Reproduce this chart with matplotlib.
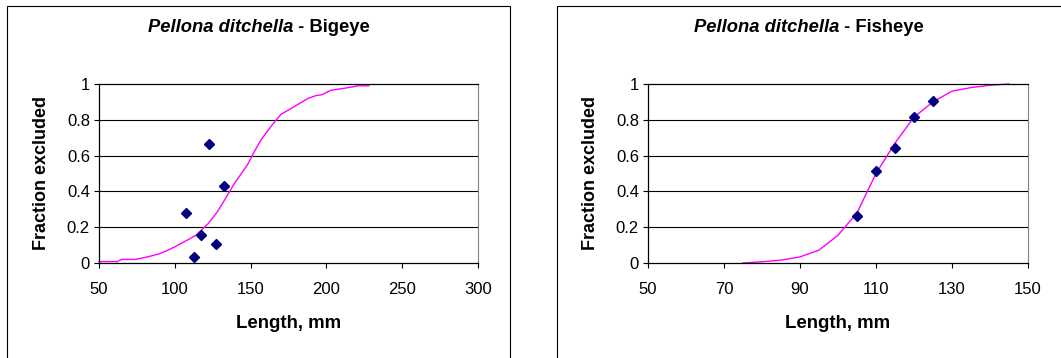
import matplotlib
matplotlib.use("Agg")
import matplotlib.pyplot as plt
from matplotlib.patches import Rectangle

# Bigeye: observed fractions excluded and fitted selection curve
bigeye_length = [107.5, 112.5, 117.5, 122.5, 127.5, 132.5]
bigeye_frac = [0.277, 0.036, 0.155, 0.667, 0.108, 0.43]
bigeye_fit_length = [50, 62, 65, 74, 82, 90, 95, 100, 108, 114, 122, 128, 132,
                     139, 148, 152, 157, 165, 170, 178, 188, 193, 197, 203,
                     211, 218, 221, 228]
bigeye_fit_frac = [0.008, 0.008, 0.02, 0.02, 0.034, 0.052, 0.07, 0.09, 0.127,
                   0.155, 0.22, 0.285, 0.34, 0.44, 0.55, 0.615, 0.69, 0.78,
                   0.83, 0.87, 0.92, 0.935, 0.94, 0.965, 0.975, 0.985, 0.99,
                   0.99]

# Fisheye: observed fractions excluded and fitted selection curve
fisheye_length = [105, 110, 115, 120, 125]
fisheye_frac = [0.262, 0.516, 0.643, 0.817, 0.907]
fisheye_fit_length = [75, 80, 85, 90, 95, 100, 105, 110, 115, 120, 125, 130,
                      135, 140, 145]
fisheye_fit_frac = [0.0, 0.007, 0.016, 0.034, 0.072, 0.155, 0.28, 0.5, 0.67,
                    0.815, 0.9, 0.96, 0.98, 0.993, 1.0]

y_ticks = [0, 0.2, 0.4, 0.6, 0.8, 1]
y_tick_labels = ["0", "0.2", "0.4", "0.6", "0.8", "1"]
bigeye_x_ticks = [50, 100, 150, 200, 250, 300]
fisheye_x_ticks = [50, 70, 90, 110, 130, 150]

species = "Pellona ditchella"
gear = ["Bigeye", "Fisheye"]

plt.rcParams["font.family"] = ["Liberation Sans", "DejaVu Sans"]

W, H = 1061, 358
fig = plt.figure(figsize=(W / 100, H / 100), dpi=100)
fig.patch.set_facecolor("white")

# chart-area frames
for (x0, x1) in [(7, 510), (557, 1070)]:
    fig.patches.append(Rectangle((x0 / W, -0.05), (x1 - x0) / W,
                                 (H - 6) / H + 0.05,
                                 transform=fig.transFigure, fill=False,
                                 edgecolor="black", linewidth=0.8))

panels = [
    dict(ax_px=(99, 478), xlim=(50, 300), xticks=bigeye_x_ticks,
         pts=(bigeye_length, bigeye_frac),
         fit=(bigeye_fit_length, bigeye_fit_frac), center=259, ylab_x=50),
    dict(ax_px=(648, 1028), xlim=(50, 150), xticks=fisheye_x_ticks,
         pts=(fisheye_length, fisheye_frac),
         fit=(fisheye_fit_length, fisheye_fit_frac), center=809, ylab_x=599),
]

top_px, bot_px = 84, 263
titles = []
for p, g in zip(panels, gear):
    x0, x1 = p["ax_px"]
    ax = fig.add_axes([x0 / W, 1 - bot_px / H, (x1 - x0) / W,
                       (bot_px - top_px) / H])
    ax.set_xlim(*p["xlim"])
    ax.set_ylim(0, 1)
    ax.set_yticks(y_ticks)
    ax.set_yticklabels(y_tick_labels)
    ax.set_xticks(p["xticks"])
    ax.set_xticklabels([str(t) for t in p["xticks"]])
    for yv in y_ticks[1:-1]:
        ax.axhline(yv, color="black", linewidth=0.8, zorder=1)
    ax.plot(p["fit"][0], p["fit"][1], color="#FF00FF", linewidth=1.0,
            zorder=2, clip_on=False)
    ax.plot(p["pts"][0], p["pts"][1], linestyle="none", marker="D",
            markersize=5.2, color="#000080", zorder=3)
    for s in ["left", "bottom", "top"]:
        ax.spines[s].set_color("black")
        ax.spines[s].set_linewidth(0.9)
    ax.spines["right"].set_color("#808080")
    ax.spines["right"].set_linewidth(0.8)
    ax.tick_params(axis="both", direction="out", length=3.5, width=0.8,
                   labelsize=12, colors="black")
    ax.tick_params(axis="y", pad=3)
    ax.tick_params(axis="x", pad=10)
    ax.set_xlabel("Length, mm", fontsize=13.4, fontweight="bold", labelpad=13)
    ax.set_ylabel("Fraction excluded", fontsize=13, fontweight="bold")
    ax.yaxis.set_label_coords((p["ylab_x"] - x0) / (x1 - x0), 0.5)

    t1 = fig.text(0, 1 - 27 / H, species, fontsize=13.2, fontweight="bold",
                  fontstyle="italic", va="center", ha="left")
    t2 = fig.text(0, 1 - 27 / H, " - " + g, fontsize=13.2, fontweight="bold",
                  va="center", ha="left")
    titles.append((t1, t2, p["center"]))

renderer = fig.canvas.get_renderer()
for t1, t2, c in titles:
    w1 = t1.get_window_extent(renderer).width
    w2 = t2.get_window_extent(renderer).width
    left = c - (w1 + w2) / 2
    t1.set_x(left / W)
    t2.set_x((left + w1) / W)

fig.savefig("out.png", dpi=100)
